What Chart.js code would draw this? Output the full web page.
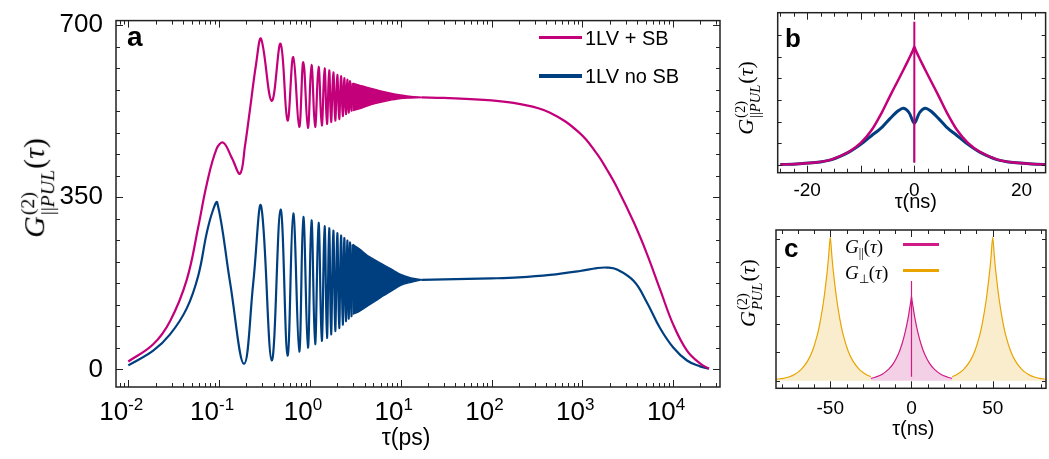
<!DOCTYPE html>
<html>
<head>
<meta charset="utf-8">
<script src="https://cdn.jsdelivr.net/npm/chart.js@4.4.1/dist/chart.umd.min.js"></script>
<style>
body { margin: 0; background: #fff; }
#wrap { position: relative; width: 1049px; height: 459px; overflow: hidden; font-family: "Liberation Sans", Arial, sans-serif; color: #000; }
canvas { position: absolute; }
.lbl { position: absolute; white-space: nowrap; line-height: 1; }
.panel { font-weight: bold; }
.mathT { position: absolute; white-space: nowrap; line-height: 1; font-family: "Liberation Serif", serif; transform: translate(-50%, -50%) rotate(-90deg); }
.mi { font-style: italic; }
.ss { display: inline-flex; flex-direction: column; font-size: 0.66em; line-height: 1.0; vertical-align: 0.5em; margin-left: 1px; margin-right: 1px; }
.leg { position: absolute; height: 3.5px; }
.legc { position: absolute; white-space: nowrap; line-height: 1; font-family: "Liberation Serif", serif; font-size: 19px; }
.legc sub { font-size: 0.65em; vertical-align: -0.3em; }
.ctr { transform: translateX(-50%); }
.xl { position: absolute; top: 398.3px; white-space: nowrap; line-height: 1; font-size: 26px; transform: translateX(-50%); }
.xl sup { font-size: 17px; vertical-align: 9.8px; line-height: 0; }
</style>
</head>
<body>
<div id="wrap">
  <canvas id="chartA" width="740" height="459" style="left:0;top:0"></canvas>
  <canvas id="chartB" width="309" height="230" style="left:740px;top:0"></canvas>
  <canvas id="chartC" width="309" height="244" style="left:740px;top:215px"></canvas>

  <div class="lbl panel" style="left:127px;top:23px;font-size:28px">a</div>
  <div class="lbl panel" style="left:785px;top:24.6px;font-size:26px">b</div>
  <div class="lbl panel" style="left:784px;top:234.5px;font-size:26px">c</div>

  <div class="leg" style="left:539px;top:35.5px;width:43px;background:#c3007a"></div>
  <div class="lbl" style="left:585px;top:27.5px;font-size:20px">1LV + SB</div>
  <div class="leg" style="left:539px;top:74px;width:43px;background:#003f7f"></div>
  <div class="lbl" style="left:585px;top:65.7px;font-size:20px">1LV no SB</div>

  <div class="lbl ctr" style="left:406px;top:425.8px;font-size:23px">τ(ps)</div>
  <div class="lbl ctr" style="left:915.8px;top:190.7px;font-size:20px">τ(ns)</div>
  <div class="lbl ctr" style="left:913.3px;top:418.2px;font-size:20px">τ(ns)</div>

  <div class="mathT" style="left:38px;top:188px;font-size:30px"><span class="mi">G</span><span class="ss"><span>(2)</span><span>||<span class="mi">PUL</span></span></span>(<span class="mi">τ</span>)</div>
  <div class="mathT" style="left:748px;top:97.5px;font-size:22px"><span class="mi">G</span><span class="ss"><span>(2)</span><span>||<span class="mi">PUL</span></span></span>(<span class="mi">τ</span>)</div>
  <div class="mathT" style="left:750px;top:293px;font-size:22px"><span class="mi">G</span><span class="ss"><span>(2)</span><span class="mi">PUL</span></span>(<span class="mi">τ</span>)</div>

  <div class="legc" style="left:845px;top:236.9px"><span class="mi">G</span><sub>||</sub>(<span class="mi">τ</span>)</div>
  <div class="leg" style="left:903px;top:242.5px;width:36px;height:3px;background:#d01a86"></div>
  <div class="legc" style="left:845px;top:262.9px"><span class="mi">G</span><sub>⊥</sub>(<span class="mi">τ</span>)</div>
  <div class="leg" style="left:903px;top:268.5px;width:36px;height:3px;background:#e9a400"></div>
</div>
<script>
const magenta = '#c3007a';
const blue = '#003f7f';
const gold = '#e9a400';

// ---- panel a (tau in ps) ----
const tauRiseSB = [0.01, 0.0188, 0.0288, 0.044, 0.059, 0.073, 0.094, 0.111, 0.138, 0.170, 0.193, 0.219, 0.255];
const gRiseSB = [16, 51, 98, 182, 290, 376, 449, 461, 430, 398, 455, 529, 620];
const tauRiseNoSB = [0.01, 0.0188, 0.0288, 0.044, 0.059, 0.073, 0.085, 0.0955, 0.132, 0.188, 0.238];
const gRiseNoSB = [8, 38, 71, 124, 191, 277, 322, 339, 177, 11, 177];

// oscillation peaks / troughs (same times for both curves)
const tauOsc = [0.29, 0.38, 0.475, 0.567, 0.655, 0.762, 0.846, 0.95, 1.04, 1.14, 1.245, 1.35, 1.45, 1.54, 1.63, 1.71, 1.81, 1.90, 2.00, 2.10, 2.20, 2.30, 2.39, 2.49, 2.58, 2.67, 2.76, 2.86, 2.96];
const gOscSB = [672, 546, 662, 506, 635, 493, 625, 491, 619, 493, 615, 496, 612, 499, 608, 503, 604, 506, 599, 509, 596, 515, 592, 519, 589, 522, 586, 526, 582];
const gOscNoSB = [332, 18, 325, 28, 317, 36, 310, 44, 303, 51, 298, 58, 291, 64, 287, 71, 282, 78, 277, 84, 272, 91, 267, 98, 262, 103, 258, 108, 254];

// fast oscillations drawn as a band (upper / lower envelope)
const tauBand = [2.96, 3.5, 4.5, 6, 8, 10, 13, 17];
const bandHiSB = [582, 578, 572, 566, 561, 558, 555, 553];
const bandLoSB = [526, 530, 537, 543, 548, 551, 552, 553];
const bandHiNoSB = [254, 245, 229, 216, 203, 193, 186, 182];
const bandLoNoSB = [112, 118, 131, 146, 160, 171, 177, 182];

const tauTail = [17, 30, 100, 200, 441, 944, 1452, 1871, 2410, 3710, 5150, 7170, 9980, 14220, 19770, 24850];
const gTailSB = [553, 552, 547, 540, 522, 480, 438, 406, 370, 298, 235, 163, 92, 38, 12, 1.4];
const gTailNoSB = [182, 183, 185, 187, 192, 200, 206, 207, 203, 179, 136, 84, 45, 18, 6, 1.4];

const xMajorA = [0.01, 0.1, 1, 10, 100, 1000, 10000];
const xLabelsA = ['10<sup>-2</sup>', '10<sup>-1</sup>', '10<sup>0</sup>', '10<sup>1</sup>', '10<sup>2</sup>', '10<sup>3</sup>', '10<sup>4</sup>'];
const yMajorA = [0, 350, 700];
const yLabelsA = ['0', '350', '700'];

// ---- panel b (tau in ns) ----
const tauB = [-25, -22, -18.5, -15.4, -12.3, -10, -8, -6, -4.5, -3, -2, -1, -0.3, 0, 0.3, 1, 2, 3, 4.5, 6, 8, 10, 12.3, 15.4, 18.5, 22, 25];
const gParB = [0.02, 0.05, 0.11, 0.26, 0.6, 1.02, 1.6, 2.45, 3.2, 3.92, 4.4, 4.9, 5.26, 5.45, 5.26, 4.9, 4.4, 3.92, 3.2, 2.45, 1.6, 1.02, 0.6, 0.26, 0.11, 0.05, 0.02];
const gNoSBB = [0.02, 0.05, 0.11, 0.25, 0.58, 0.95, 1.35, 1.75, 2.15, 2.5, 2.62, 2.42, 2.03, 1.93, 2.03, 2.42, 2.62, 2.5, 2.15, 1.75, 1.35, 0.95, 0.58, 0.25, 0.11, 0.05, 0.02];
const spikeTau = [0, 0];
const spikeParB = [0.11, 6.6];
const spikeNoSBB = [0.11, 1.93];
const xMajorB = [-20, 0, 20];
const xLabelsB = ['-20', '0', '20'];

// ---- panel c (tau in ns) ----
const tauPerpL = [-83.4, -79, -76, -72, -68, -64, -61, -58, -56, -54, -52, -51, -50, -49, -48, -46, -44, -42, -39, -36, -32, -28, -25];
const gPerpL = [0.05, 0.08, 0.12, 0.22, 0.39, 0.69, 1.05, 1.61, 2.15, 2.86, 3.8, 4.4, 5.07, 4.4, 3.8, 2.86, 2.15, 1.61, 1.05, 0.69, 0.39, 0.22, 0.14];
const tauPerpR = [25, 28, 32, 36, 39, 42, 44, 46, 48, 49, 50, 51, 52, 54, 56, 58, 61, 64, 68, 72, 76, 79, 82.8];
const gPerpR = [0.14, 0.22, 0.39, 0.69, 1.05, 1.61, 2.15, 2.86, 3.8, 4.4, 5.07, 4.4, 3.8, 2.86, 2.15, 1.61, 1.05, 0.69, 0.39, 0.22, 0.12, 0.08, 0.05];
const tauParC = [-25, -22, -18, -14, -11, -8, -6, -4, -2, -1, -0.3, 0, 0.3, 1, 2, 4, 6, 8, 11, 14, 18, 22, 25];
const gParC = [0.08, 0.13, 0.23, 0.41, 0.62, 0.95, 1.27, 1.69, 2.24, 2.6, 2.85, 2.99, 2.85, 2.6, 2.24, 1.69, 1.27, 0.95, 0.62, 0.41, 0.23, 0.13, 0.08];
const spikeParC = [0.14, 3.52];
const xMajorC = [-50, 0, 50];
const xLabelsC = ['-50', '0', '50'];

function pts(xs, ys) {
  return xs.map((x, i) => ({ x: x, y: ys[i] }));
}

function near(list, v) {
  return list.findIndex(m => Math.abs(m - v) < 1e-9 * Math.max(1, Math.abs(m)));
}

function range(a, b, step) {
  const out = [];
  for (let v = a; v <= b + 1e-9; v += step) out.push(Math.round(v * 1000) / 1000);
  return out;
}

// inward tick marks on all four sides plus the frame
const frameTicks = {
  id: 'frameTicks',
  afterDraw(chart, args, opts) {
    const ctx = chart.ctx;
    const a = chart.chartArea;
    ctx.save();
    ctx.strokeStyle = '#222';
    ctx.lineWidth = 1;
    ctx.beginPath();
    chart.scales.x.ticks.forEach(t => {
      const px = Math.round(chart.scales.x.getPixelForValue(t.value)) + 0.5;
      if (px <= a.left + 1 || px >= a.right - 1) return;
      const len = near(opts.xMajor, t.value) >= 0 ? 7 : 4;
      ctx.moveTo(px, a.bottom); ctx.lineTo(px, a.bottom - len);
      ctx.moveTo(px, a.top); ctx.lineTo(px, a.top + len);
    });
    chart.scales.y.ticks.forEach(t => {
      const py = Math.round(chart.scales.y.getPixelForValue(t.value)) + 0.5;
      if (py <= a.top + 1 || py >= a.bottom - 1) return;
      const len = near(opts.yMajor, t.value) >= 0 ? 7 : 4;
      ctx.moveTo(a.left, py); ctx.lineTo(a.left + len, py);
      ctx.moveTo(a.right, py); ctx.lineTo(a.right - len, py);
    });
    ctx.stroke();
    ctx.lineWidth = 1.5;
    ctx.strokeRect(a.left, a.top, a.right - a.left, a.bottom - a.top);
    ctx.restore();
  }
};

function tickFont(size) {
  return { family: 'Liberation Sans', size: size };
}

// ---------- chart a ----------
const xTicksA = [];
for (let e = -3; e <= 4; e++) {
  for (let m = 1; m <= 9; m++) {
    const v = m * Math.pow(10, e);
    if (v > 0.0074 && v < 32800) xTicksA.push(v);
  }
}
const yTicksA = range(0, 700, 43.75);

const chartA = new Chart(document.getElementById('chartA'), {
  type: 'line',
  data: {
    datasets: [
      {
        data: pts(tauRiseSB, gRiseSB).concat(pts(tauOsc, gOscSB), [{ x: 3.3, y: null }], pts(tauTail, gTailSB)),
        borderColor: magenta, borderWidth: 2.2, tension: 0.4, fill: false
      },
      { data: pts(tauBand, bandHiSB), borderColor: magenta, borderWidth: 1.5, tension: 0.3, fill: false },
      { data: pts(tauBand, bandLoSB), borderColor: magenta, borderWidth: 1.5, tension: 0.3, fill: '-1', backgroundColor: magenta },
      {
        data: pts(tauRiseNoSB, gRiseNoSB).concat(pts(tauOsc, gOscNoSB), [{ x: 3.3, y: null }], pts(tauTail, gTailNoSB)),
        borderColor: blue, borderWidth: 2.2, tension: 0.4, fill: false
      },
      { data: pts(tauBand, bandHiNoSB), borderColor: blue, borderWidth: 1.5, tension: 0.3, fill: false },
      { data: pts(tauBand, bandLoNoSB), borderColor: blue, borderWidth: 1.5, tension: 0.3, fill: '-1', backgroundColor: blue }
    ]
  },
  options: {
    responsive: false,
    animation: false,
    events: [],
    layout: { padding: { top: 13, right: 20, left: 0, bottom: 0 } },
    elements: { point: { radius: 0 } },
    plugins: {
      legend: { display: false },
      tooltip: { enabled: false },
      frameTicks: { xMajor: xMajorA, yMajor: yMajorA }
    },
    scales: {
      x: {
        type: 'logarithmic',
        min: 0.007318,
        max: 32850,
        grid: { display: false },
        border: { display: false },
        afterBuildTicks: s => { s.ticks = xTicksA.map(v => ({ value: v })); },
        afterFit: s => { s.height = 72; },
        ticks: { display: false, autoSkip: false }
      },
      y: {
        type: 'linear',
        min: -35.9,
        max: 709.2,
        grid: { display: false },
        border: { display: false },
        afterBuildTicks: s => { s.ticks = yTicksA.map(v => ({ value: v })); },
        afterFit: s => { s.width = 116; },
        ticks: {
          autoSkip: false, padding: 5, color: '#000', font: tickFont(26),
          callback: v => { const i = near(yMajorA, v); return i >= 0 ? yLabelsA[i] : ''; }
        }
      }
    }
  },
  plugins: [frameTicks]
});

// decade labels with real superscripts, placed through the log scale
const wrap = document.getElementById('wrap');
xMajorA.forEach((v, i) => {
  const d = document.createElement('div');
  d.className = 'xl';
  d.style.left = (chartA.scales.x.getPixelForValue(v) - 7) + 'px';
  d.innerHTML = xLabelsA[i];
  wrap.appendChild(d);
});

// ---------- chart b ----------
const xTicksB = range(-25, 22.5, 2.5);
const yTicksB = range(0, 7, 1);

new Chart(document.getElementById('chartB'), {
  type: 'line',
  data: {
    datasets: [
      { data: pts(tauB, gParB), borderColor: magenta, borderWidth: 2.5, tension: 0.3 },
      { data: pts(spikeTau, spikeParB), borderColor: magenta, borderWidth: 2, tension: 0 },
      { data: pts(spikeTau, spikeNoSBB), borderColor: blue, borderWidth: 1.5, tension: 0 },
      { data: pts(tauB, gNoSBB), borderColor: blue, borderWidth: 3, tension: 0.3 }
    ]
  },
  options: {
    responsive: false,
    animation: false,
    events: [],
    layout: { padding: { top: 12.7, right: 3.4, left: 0, bottom: 0 } },
    elements: { point: { radius: 0 } },
    plugins: {
      legend: { display: false },
      tooltip: { enabled: false },
      frameTicks: { xMajor: [-20, -10, 0, 10, 20], yMajor: [] }
    },
    scales: {
      x: {
        type: 'linear', min: -25.5, max: 24.5,
        grid: { display: false }, border: { display: false },
        afterBuildTicks: s => { s.ticks = xTicksB.map(v => ({ value: v })); },
        afterFit: s => { s.height = 57.3; },
        ticks: {
          autoSkip: false, maxRotation: 0, padding: -1, color: '#000', font: tickFont(19),
          callback: v => { const i = near(xMajorB, v); return i >= 0 ? xLabelsB[i] : ''; }
        }
      },
      y: {
        type: 'linear', min: -0.355, max: 7.02,
        grid: { display: false }, border: { display: false },
        afterBuildTicks: s => { s.ticks = yTicksB.map(v => ({ value: v })); },
        afterFit: s => { s.width = 37.7; },
        ticks: { display: false }
      }
    }
  },
  plugins: [frameTicks]
});

// ---------- chart c ----------
const xTicksC = range(-80, 80, 10);
const yTicksC = range(0, 5, 1);

new Chart(document.getElementById('chartC'), {
  type: 'line',
  data: {
    datasets: [
      { data: pts(spikeTau, spikeParC), borderColor: '#d01a86', borderWidth: 1.2, tension: 0 },
      { data: pts(tauParC, gParC), borderColor: '#d01a86', borderWidth: 1.2, tension: 0.3, fill: 'origin', backgroundColor: '#f3d0e5' },
      { data: pts(tauPerpL, gPerpL), borderColor: gold, borderWidth: 1.2, tension: 0.3, fill: 'origin', backgroundColor: '#f9edcd' },
      { data: pts(tauPerpR, gPerpR), borderColor: gold, borderWidth: 1.2, tension: 0.3, fill: 'origin', backgroundColor: '#f9edcd' }
    ]
  },
  options: {
    responsive: false,
    animation: false,
    events: [],
    layout: { padding: { top: 15, right: 3, left: 0, bottom: 0 } },
    elements: { point: { radius: 0 } },
    plugins: {
      legend: { display: false },
      tooltip: { enabled: false },
      frameTicks: { xMajor: xMajorC, yMajor: [] }
    },
    scales: {
      x: {
        type: 'linear', min: -83.4, max: 82.8,
        grid: { display: false }, border: { display: false },
        afterBuildTicks: s => { s.ticks = xTicksC.map(v => ({ value: v })); },
        afterFit: s => { s.height = 70.7; },
        ticks: {
          autoSkip: false, maxRotation: 0, padding: 1, color: '#000', font: tickFont(19),
          callback: v => { const i = near(xMajorC, v); return i >= 0 ? xLabelsC[i] : ''; }
        }
      },
      y: {
        type: 'linear', min: -0.27, max: 5.325,
        grid: { display: false }, border: { display: false },
        afterBuildTicks: s => { s.ticks = yTicksC.map(v => ({ value: v })); },
        afterFit: s => { s.width = 36; },
        ticks: { display: false }
      }
    }
  },
  plugins: [frameTicks]
});
</script>
</body>
</html>
